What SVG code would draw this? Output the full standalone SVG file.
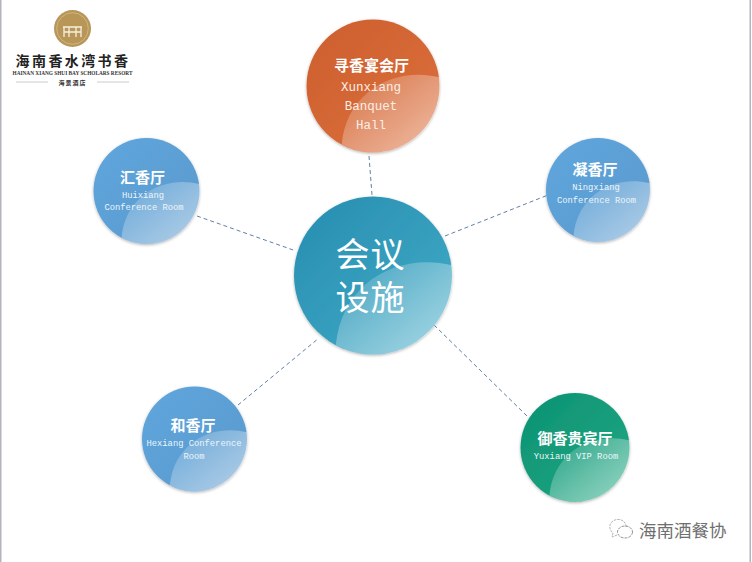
<svg xmlns="http://www.w3.org/2000/svg" width="752" height="562" viewBox="0 0 752 562">
<style>
.cjk{font-family:"Noto Sans CJK SC","Noto Sans",sans-serif;fill:#fff;text-anchor:middle}
.t{font-size:15px;font-weight:700}
.m{font-family:"Liberation Mono",monospace;fill:#fff;text-anchor:middle}
.big{font-size:12.5px;fill:#fbeee6}
.sm{font-size:8.8px;fill:#eef6fb}
.c{stroke:#5f80a8;stroke-width:1;stroke-dasharray:4 3;fill:none}
.hl{fill:url(#gh)}
.rule{stroke:#b5b5b5;stroke-width:.7}
</style>
<defs>
<linearGradient id="gh" x1="0" y1="0" x2="1" y2="1"><stop offset="0" stop-color="#fff" stop-opacity=".08"/><stop offset="1" stop-color="#fff" stop-opacity=".55"/></linearGradient>
<linearGradient id="go" x1="0" y1="0" x2="1" y2="1"><stop offset="0" stop-color="#cd5f2e"/><stop offset="1" stop-color="#dc6f3c"/></linearGradient>
<linearGradient id="gc" x1="0" y1="0" x2="1" y2="1"><stop offset="0" stop-color="#278db0"/><stop offset="1" stop-color="#42acc8"/></linearGradient>
<linearGradient id="gb" x1="0" y1="0" x2="1" y2="1"><stop offset="0" stop-color="#5ea6dd"/><stop offset="1" stop-color="#5b99cc"/></linearGradient>
<linearGradient id="gg" x1="0" y1="0" x2="1" y2="1"><stop offset="0" stop-color="#0b9272"/><stop offset="1" stop-color="#22a884"/></linearGradient>
<filter id="sh" x="-15%" y="-15%" width="130%" height="130%"><feDropShadow dx="0" dy="1" stdDeviation="1.6" flood-color="#000" flood-opacity=".3"/></filter>
<path id="h" class="hl" d="M-.47.88C-.4.1.3-.3 1-.13A1 1 0 0 1-.47.88Z"/>
</defs>
<rect width="752" height="562" fill="#fff"/>
<rect x="0" y="0" width="1.5" height="562" fill="#b4b4bc"/>
<rect x="749.5" y="0" width="1.5" height="562" fill="#b4b4bc"/>
<g id="connectors">
<line class="c" x1="369" y1="156" x2="372" y2="195"/>
<line class="c" x1="197" y1="216" x2="296" y2="251"/>
<line class="c" x1="445" y1="236" x2="548" y2="195"/>
<line class="c" x1="238" y1="405" x2="319" y2="338"/>
<line class="c" x1="434" y1="325" x2="527" y2="416"/>
</g>
<g id="logo">
<circle cx="72.500" cy="28.500" r="18.500" fill="#b89658"/>
<circle cx="72.500" cy="28.500" r="15.800" fill="none" stroke="#d9c290" stroke-width=".7"/>
<path d="M63 27H82M64 27V37M81 27V37M69 27V37M76 27V37M64 32H81" stroke="#f6efe0" stroke-width="1.300" fill="none"/>
<text x="73" y="66" text-anchor="middle" font-family="'Noto Sans CJK SC',sans-serif" font-size="14" font-weight="700" letter-spacing="2.400" fill="#222">海南香水湾书香</text>
<text x="72.500" y="75" text-anchor="middle" font-family="'Liberation Serif',serif" font-size="5.300" font-weight="700" fill="#333">HAINAN XIANG SHUI BAY SCHOLARS RESORT</text>
<line class="rule" x1="16" y1="82" x2="48" y2="82"/>
<line class="rule" x1="97" y1="82" x2="129" y2="82"/>
<text x="72.500" y="85" text-anchor="middle" font-family="'Noto Sans CJK SC',sans-serif" font-size="6" font-weight="700" letter-spacing="1" fill="#333">海景酒店</text>
</g>
<g id="node-center">
<circle cx="373" cy="275.500" r="79" fill="url(#gc)" filter="url(#sh)"/>
<use href="#h" transform="translate(373 275.500) scale(79)"/>
<text class="cjk" x="370.500" y="267" font-size="34" letter-spacing="1">会议</text>
<text class="cjk" x="370.500" y="310" font-size="34" letter-spacing="1">设施</text>
</g>
<g id="node-xunxiang">
<circle cx="373" cy="86" r="66.500" fill="url(#go)" filter="url(#sh)"/>
<use href="#h" transform="translate(373 86) scale(66.500)"/>
<text class="cjk t" x="371.500" y="71">寻香宴会厅</text>
<text class="m big" x="371" y="91">Xunxiang</text>
<text class="m big" x="371" y="110">Banquet</text>
<text class="m big" x="371" y="129">Hall</text>
</g>
<g id="node-huixiang">
<circle cx="146.500" cy="191" r="53" fill="url(#gb)" filter="url(#sh)"/>
<use href="#h" transform="translate(146.500 191) scale(53)"/>
<text class="cjk t" x="142.500" y="183">汇香厅</text>
<text class="m sm" x="143" y="198">Huixiang</text>
<text class="m sm" x="144" y="210">Conference Room</text>
</g>
<g id="node-ningxiang">
<circle cx="598" cy="190" r="52" fill="url(#gb)" filter="url(#sh)"/>
<use href="#h" transform="translate(598 190) scale(52)"/>
<text class="cjk t" x="595" y="175">凝香厅</text>
<text class="m sm" x="596" y="190">Ningxiang</text>
<text class="m sm" x="596.500" y="203">Conference Room</text>
</g>
<g id="node-hexiang">
<circle cx="194.500" cy="439" r="52.500" fill="url(#gb)" filter="url(#sh)"/>
<use href="#h" transform="translate(194.500 439) scale(52.500)"/>
<text class="cjk t" x="193" y="431">和香厅</text>
<text class="m sm" x="194" y="446">Hexiang Conference</text>
<text class="m sm" x="194" y="459">Room</text>
</g>
<g id="node-yuxiang">
<circle cx="575" cy="447.500" r="54.500" fill="url(#gg)" filter="url(#sh)"/>
<use href="#h" transform="translate(575 447.500) scale(54.500)"/>
<text class="cjk t" x="575" y="444">御香贵宾厅</text>
<text class="m sm" x="576" y="459">Yuxiang VIP Room</text>
</g>
<g id="watermark">
<path d="M626 527C626 521 620 518 615 520C609 522 608 529 613 533L612 537L617 535" fill="none" stroke="#aaa" stroke-width=".9" stroke-dasharray="2.500 1"/>
<ellipse cx="625" cy="532" rx="7.500" ry="6" fill="none" stroke="#888" stroke-width=".9" stroke-dasharray="3 1"/>
<text x="639" y="537" font-family="'Noto Sans CJK SC',sans-serif" font-size="17.500" fill="#6f6f6f">海南酒餐协</text>
</g>
</svg>
